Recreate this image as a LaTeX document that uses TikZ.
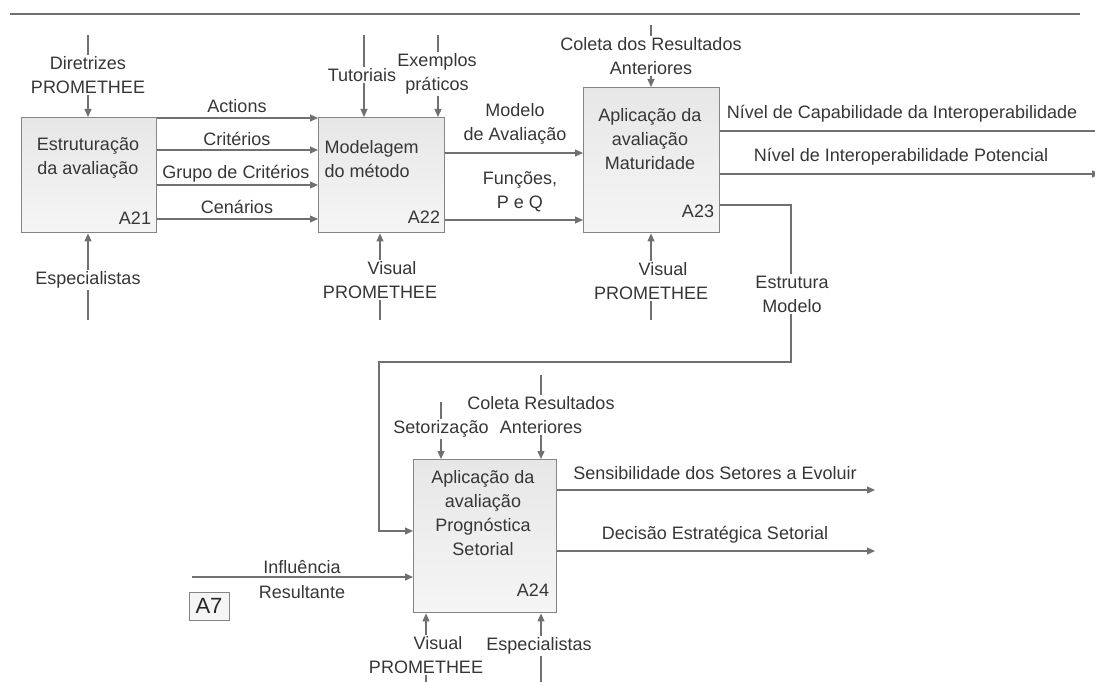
\documentclass[tikz,border=0pt]{standalone}
\usepackage{fontspec}
\setmainfont{Liberation Sans}
\usetikzlibrary{arrows.meta}
\definecolor{wire}{HTML}{707070}
\definecolor{ink}{HTML}{363636}
\definecolor{frame}{HTML}{858585}
\definecolor{boxtop}{HTML}{E7E7E7}
\definecolor{boxbot}{HTML}{F5F5F5}
\tikzset{
  actbox/.style={draw=frame, line width=1.4pt, top color=boxtop, bottom color=boxbot,
    anchor=north west, inner sep=0pt},
  flow/.style={draw=wire, line width=1.2pt, -{Triangle[length=8pt,width=7pt]}},
  wire/.style={draw=wire, line width=1.2pt},
  lbl/.style={text=ink, font=\fontsize{18}{24}\selectfont, align=center, inner sep=1.5pt},
  vlbl/.style={lbl, fill=white},
  code/.style={text=ink, font=\fontsize{18}{24}\selectfont, inner sep=0pt},
}
% "Visual" sits a little right of "PROMETHEE" under each box
\newcommand{\vislead}{\hspace*{24pt}}
\begin{document}
\begin{tikzpicture}[x=1pt, y=-1pt]
\useasboundingbox (0,0) rectangle (1095,682);

% header rule
\coordinate (ruleL) at (10,14);
\coordinate (ruleR) at (1080,14);
\draw[wire] (ruleL) -- (ruleR);

% activity boxes
\node[actbox, minimum width=135pt, minimum height=115pt] (a21) at (21,117) {};
\node[actbox, minimum width=126pt, minimum height=115pt] (a22) at (318,117) {};
\node[actbox, minimum width=136pt, minimum height=145pt] (a23) at (583,87) {};
\node[actbox, minimum width=143pt, minimum height=153pt] (a24) at (413,459) {};

% box texts
\node[lbl] (t21) at (88,158) {Estruturação\\da avaliação};
\node[code] (c21) at (135,218) {A21};
\node[lbl, align=left, anchor=west] (t22) at (323,159) {Modelagem\\do método};
\node[code] (c22) at (424,217) {A22};
\node[lbl] (t23) at (650,139) {Aplicação da\\avaliação\\Maturidade};
\node[code] (c23) at (698,211) {A23};
\node[lbl] (t24) at (483,513) {Aplicação da\\avaliação\\Prognóstica\\Setorial};
\node[code] (c24) at (533,590) {A24};

% free ends of the boundary arrows
\coordinate (dirIn) at (88,35);
\coordinate (espIn) at (88,320);
\coordinate (tutIn) at (364,35);
\coordinate (exeIn) at (438,35);
\coordinate (vp2In) at (380,320);
\coordinate (colIn) at (651,25);
\coordinate (vp3In) at (651,320);
\coordinate (capOut) at (1104,131);
\coordinate (potOut) at (1100,174);
\coordinate (setIn) at (441,402);
\coordinate (cr4In) at (541,375);
\coordinate (vp4In) at (426,684);
\coordinate (es4In) at (541,684);
\coordinate (infIn) at (192,577);
\coordinate (senOut) at (875,490);
\coordinate (decOut) at (875,551);
\coordinate (bendA) at (791,205);
\coordinate (bendB) at (791,362);
\coordinate (bendC) at (379,362);

% A21
\draw[flow] (dirIn) -- (a21.north -| dirIn);
\draw[flow] (espIn) -- (a21.south -| espIn);
\draw[flow] (a21.east |- 0,118) -- (a22.west |- 0,118);
\draw[flow] (a21.east |- 0,150) -- (a22.west |- 0,150);
\draw[flow] (a21.east |- 0,185) -- (a22.west |- 0,185);
\draw[flow] (a21.east |- 0,219) -- (a22.west |- 0,219);

% A22
\draw[flow] (tutIn) -- (a22.north -| tutIn);
\draw[flow] (exeIn) -- (a22.north -| exeIn);
\draw[flow] (vp2In) -- (a22.south -| vp2In);
\draw[flow] (a22.east |- 0,153) -- (a23.west |- 0,153);
\draw[flow] (a22.east |- 0,220) -- (a23.west |- 0,220);

% A23
\draw[flow] (colIn) -- (a23.north -| colIn);
\draw[flow] (vp3In) -- (a23.south -| vp3In);
\draw[flow] (a23.east |- capOut) -- (capOut);
\draw[flow] (a23.east |- potOut) -- (potOut);
\draw[flow] (a23.east |- bendA) -- (bendA) -- (bendB) -- (bendC) -- (bendC |- 0,531) -- (a24.west |- 0,531);

% A24
\draw[flow] (setIn) -- (a24.north -| setIn);
\draw[flow] (cr4In) -- (a24.north -| cr4In);
\draw[flow] (vp4In) -- (a24.south -| vp4In);
\draw[flow] (es4In) -- (a24.south -| es4In);
\draw[flow] (infIn) -- (a24.west |- infIn);
\draw[flow] (a24.east |- senOut) -- (senOut);
\draw[flow] (a24.east |- decOut) -- (decOut);

% arrow labels
\node[vlbl] (lDir) at (88,75) {Diretrizes\\PROMETHEE};
\node[vlbl] (lEsp) at (88,280) {Especialistas};
\node[lbl] (lAct) at (237,106) {Actions};
\node[lbl] (lCri) at (237,139) {Critérios};
\node[lbl] (lGrp) at (236,174) {Grupo de Critérios};
\node[lbl] (lCen) at (237,207) {Cenários};
\node[vlbl] (lTut) at (362,75) {Tutoriais};
\node[vlbl] (lExe) at (437,74) {Exemplos\\práticos};
\node[vlbl] (lVp2) at (380,280) {\vislead Visual\\PROMETHEE};
\node[lbl] (lMod) at (515,124) {Modelo\\de Avaliação};
\node[lbl] (lFun) at (520,192) {Funções,\\P e Q};
\node[vlbl] (lCol) at (651,56) {Coleta dos Resultados\\Anteriores};
\node[vlbl] (lVp3) at (651,281) {\vislead Visual\\PROMETHEE};
\node[lbl] (lCap) at (902,114) {Nível de Capabilidade da Interoperabilidade};
\node[lbl] (lPot) at (901,157) {Nível de Interoperabilidade Potencial};
\node[vlbl] (lEst) at (792,294) {Estrutura\\Modelo};
\node[vlbl] (lCr4) at (541,415) {Coleta Resultados\\Anteriores};
\node[vlbl] (lSet) at (441,429) {Setorização};
\node[lbl] (lInf) at (302,567) {Influência};
\node[lbl] (lRes) at (302,592) {Resultante};
\node[vlbl] (lVp4) at (426,655) {\vislead Visual\\PROMETHEE};
\node[vlbl] (lEs4) at (539,646) {Especialistas};
\node[lbl] (lSen) at (715,473) {Sensibilidade dos Setores a Evoluir};
\node[lbl] (lDec) at (715,535) {Decisão Estratégica Setorial};

% diagram number tag
\node[draw=frame, line width=1pt, fill=boxbot, text=black!85,
      font=\fontsize{22}{24}\selectfont, minimum width=40pt, minimum height=28pt,
      inner sep=0pt] (tag) at (209,606) {A7};
\end{tikzpicture}
\end{document}
